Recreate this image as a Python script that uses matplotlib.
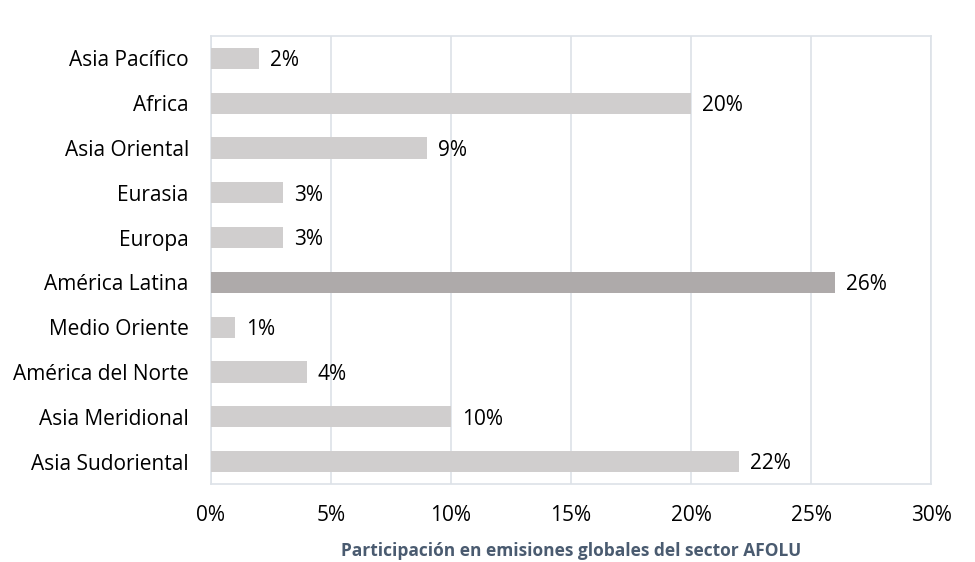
import matplotlib
matplotlib.use("Agg")
import matplotlib.pyplot as plt
from matplotlib.ticker import FuncFormatter

categories = ["Asia Pacífico", "Africa", "Asia Oriental", "Eurasia", "Europa",
              "América Latina", "Medio Oriente", "América del Norte",
              "Asia Meridional", "Asia Sudoriental"]
values = [2, 20, 9, 3, 3, 26, 1, 4, 10, 22]
highlight = "América Latina"
xticks = [0, 5, 10, 15, 20, 25, 30]
xlabel = "Participación en emisiones globales del sector AFOLU"

plt.rcParams['font.family'] = ['Open Sans', 'DejaVu Sans']

fig = plt.figure(figsize=(9.75, 5.62), dpi=100)
ax = fig.add_axes([0.2164, 0.1388, 0.9549 - 0.2164, 0.9359 - 0.1388])

ypos = list(range(len(categories)))[::-1]
colors = ["#AEAAAA" if c == highlight else "#D0CECE" for c in categories]
ax.barh(ypos, values, height=0.47, color=colors, zorder=3)

for y, v in zip(ypos, values):
    ax.text(v + 0.45, y - 0.05, f"{v}%", va="center", ha="left", fontsize=15, color="#000000")

ax.set_xlim(0, 30)
ax.set_ylim(-0.5, len(categories) - 0.5)
ax.set_xticks(xticks)
ax.xaxis.set_major_formatter(FuncFormatter(lambda x, p: f"{int(x)}%"))
ax.set_yticks(ypos)
ax.set_yticklabels(categories)
ax.tick_params(axis="x", length=0, pad=15, labelsize=15)
ax.tick_params(axis="y", length=0, pad=16, labelsize=15)
ax.grid(axis="x", color="#DDE2E8", linewidth=1.2, zorder=0)
for s in ax.spines.values():
    s.set_color("#DDE2E8")
    s.set_linewidth(1.2)
ax.set_xlabel(xlabel, fontsize=12.5, fontweight="bold", color="#4A5B70", labelpad=12)

fig.savefig("out.png", dpi=100)
